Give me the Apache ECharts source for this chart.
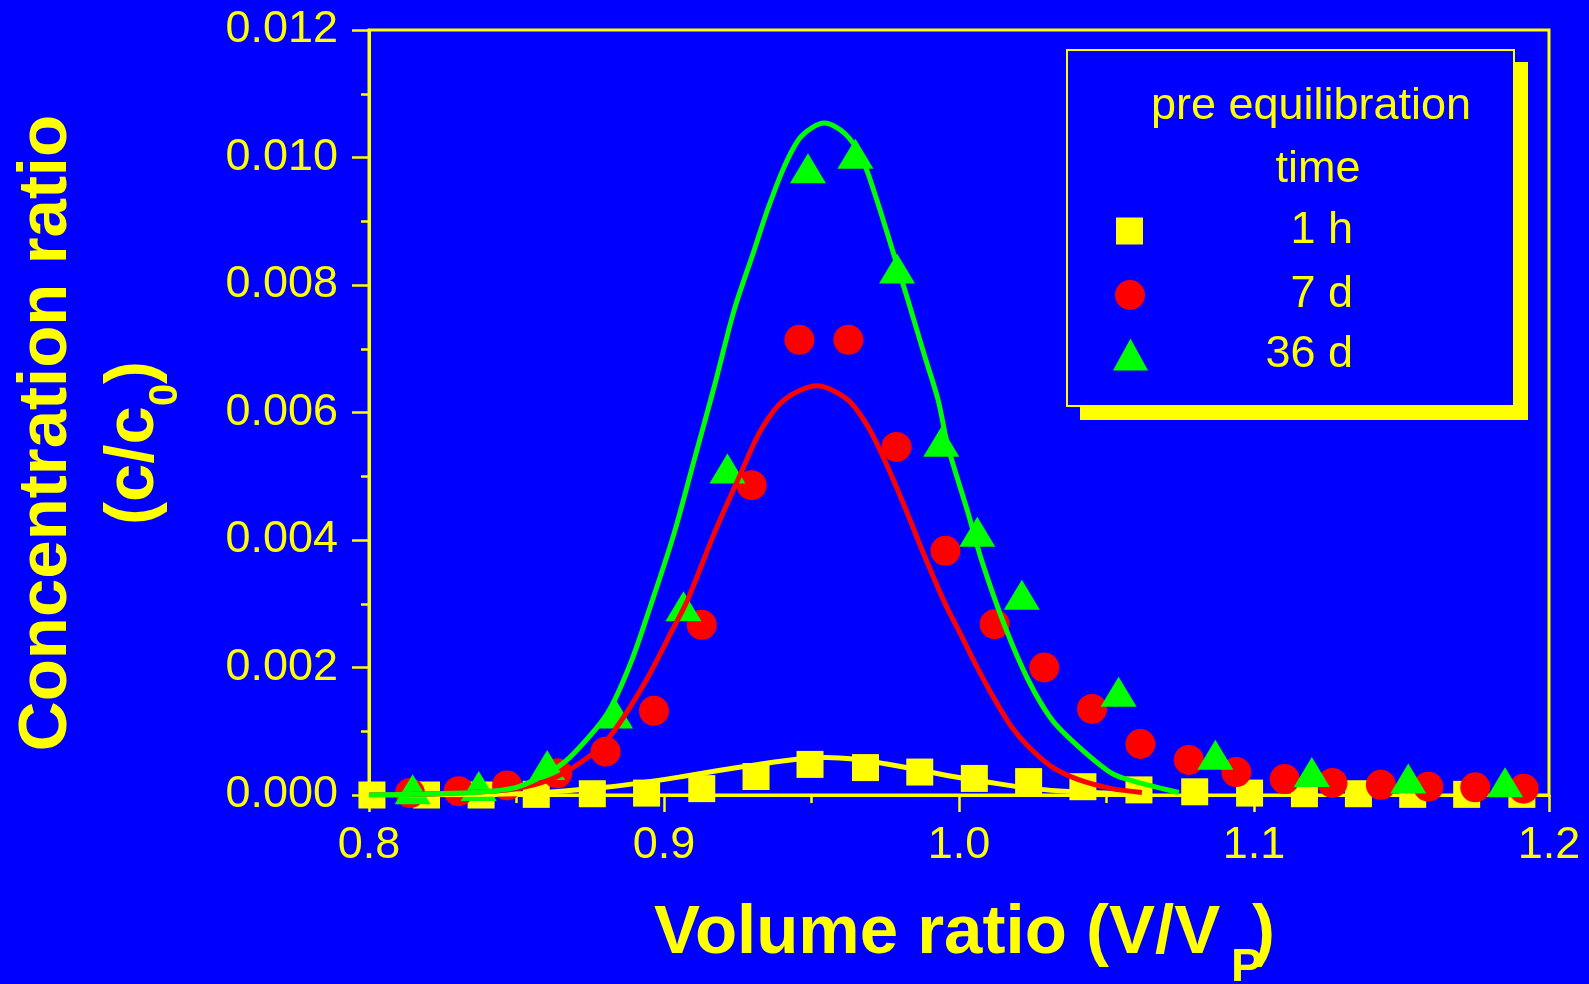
<!DOCTYPE html>
<html>
<head>
<meta charset="utf-8">
<script src="https://cdn.jsdelivr.net/npm/echarts@6/dist/echarts.min.js"></script>
<style>
html,body{margin:0;padding:0;background:#0000ff;}
#chart{width:1589px;height:984px;}
</style>
</head>
<body>
<div id="chart"></div>
<script>
// ---- data ----
const seriesNames = ['1 h', '7 d', '36 d'];

const h1X = [0.801, 0.8195, 0.838, 0.8567, 0.8757, 0.8941, 0.9128, 0.9312, 0.9495, 0.9683, 0.9867,
             1.0052, 1.0236, 1.0420, 1.0610, 1.0799, 1.0985, 1.1171, 1.1354, 1.1538, 1.1721, 1.1908];
const h1Y = [0, 0, 0, 0.00001, 0.00002, 0.00003, 0.00010, 0.00029, 0.00048, 0.00043, 0.00036,
             0.00026, 0.00021, 0.00013, 0.00008, 0.00005, 0.00003, 0.00002, 0.00002, 0.00001, 0.00001, 0.00001];

const d7X = [0.8139, 0.8304, 0.8468, 0.8638, 0.8802, 0.8966, 0.9128, 0.9297, 0.9459, 0.9625, 0.9788, 0.9954,
             1.0121, 1.0289, 1.0451, 1.0615, 1.0779, 1.0940, 1.1104, 1.1266, 1.1430, 1.1591, 1.1750, 1.1914];
const d7Y = [0.00003, 0.00006, 0.00015, 0.00034, 0.00068, 0.00132, 0.00267, 0.00486, 0.00714, 0.00714, 0.00546, 0.00383,
             0.00268, 0.00200, 0.00135, 0.00080, 0.00055, 0.00036, 0.00025, 0.00019, 0.00016, 0.00013, 0.00012, 0.00010];

const d36X = [0.8148, 0.8372, 0.8604, 0.8834, 0.9066, 0.9215, 0.9488, 0.9649, 0.9790, 0.9940, 1.0062, 1.0213,
              1.0541, 1.0869, 1.1196, 1.1523, 1.1851];
const d36Y = [0.00009, 0.00014, 0.00047, 0.00128, 0.00296, 0.00512, 0.00983, 0.01006, 0.00826, 0.00554, 0.00413, 0.00314,
              0.00162, 0.00063, 0.00036, 0.00026, 0.00020];

// fitted curves
const fit1hX = [0.80, 0.85, 0.865, 0.88, 0.892, 0.905, 0.918, 0.932, 0.945, 0.955, 0.965, 0.975, 0.987, 0.998, 1.010, 1.025, 1.040, 1.058];
const fit1hY = [0, 0.00002, 0.00006, 0.00012, 0.00019, 0.00028, 0.00038, 0.00048, 0.00056, 0.00059, 0.00056, 0.00049, 0.00039, 0.00029, 0.00020, 0.00010, 0.00005, 0.00002];

const fit7dX = [0.80, 0.8468, 0.8638, 0.8796, 0.8921, 0.9034, 0.9080, 0.9170, 0.9255, 0.9329, 0.9408, 0.9519, 0.9623, 0.9691,
                0.9748, 0.9816, 0.9884, 0.9952, 1.0008, 1.0054, 1.0122, 1.0178, 1.0235, 1.0315, 1.0405, 1.0518, 1.0620];
const fit7dY = [0, 0.00008, 0.00029, 0.00081, 0.00165, 0.00264, 0.00306, 0.00410, 0.00499, 0.00573, 0.00620, 0.00642, 0.00620, 0.00578,
                0.00525, 0.00452, 0.00374, 0.00301, 0.00250, 0.00207, 0.00149, 0.00107, 0.00076, 0.00044, 0.00024, 0.00010, 0.00004];

const fit36dX = [0.80, 0.835, 0.85, 0.8627, 0.8694, 0.8808, 0.8887, 0.8961, 0.9034, 0.9102, 0.9170, 0.9238, 0.9306, 0.9351, 0.9408,
                 0.9465, 0.9544, 0.9612, 0.9669, 0.9714, 0.9771, 0.9827, 0.9884, 0.9929, 0.9963, 1.0031, 1.0076, 1.0156,
                 1.0235, 1.0315, 1.0405, 1.0518, 1.0597, 1.0745];
const fit36dY = [0, 0.00004, 0.00012, 0.00040, 0.00065, 0.00128, 0.00207, 0.00306, 0.00410, 0.00525, 0.00640, 0.00761, 0.00855, 0.00918, 0.00986,
                 0.01033, 0.01054, 0.01038, 0.01001, 0.00944, 0.00860, 0.00776, 0.00688, 0.00620, 0.00546, 0.00442, 0.00369, 0.00264,
                 0.00180, 0.00118, 0.00076, 0.00034, 0.00021, 0.00004];

const xMin = 0.8, xMax = 1.2, xStep = 0.1;
const yMin = 0, yMax = 0.012, yStep = 0.002;

// ---- styling ----
const BG = '#0000ff', YEL = '#ffff00', RED = '#ff0000', GRN = '#00ff00';
const FONT = '"Liberation Sans", Arial, Helvetica, sans-serif';
const zip = (a, b) => a.map((v, i) => [v, b[i]]);

const chart = echarts.init(document.getElementById('chart'), null, {renderer: 'canvas'});

function legendItem(name, left, top, w, h, textW) {
  return {
    data: [name], orient: 'vertical', left: left, top: top, padding: 0,
    itemWidth: w, itemHeight: h, selectedMode: false,
    formatter: '{r|{name}}',
    textStyle: {
      color: YEL, fontFamily: FONT, fontSize: 45, lineHeight: 45,
      rich: { r: { width: textW, align: 'right', color: YEL, fontFamily: FONT, fontSize: 45, lineHeight: 45 } }
    }
  };
}

const axisCommon = {
  axisLine: { show: true, onZero: false, lineStyle: { color: YEL, width: 3 } },
  axisTick: { show: true, inside: false, length: 17, lineStyle: { color: YEL, width: 2.5 } },
  minorTick: { show: true, splitNumber: 2, length: 8, lineStyle: { color: YEL, width: 2.5 } },
  splitLine: { show: false }
};

const option = {
  backgroundColor: BG,
  animation: false,
  grid: { left: 369, right: 40, top: 30, bottom: 189, show: true, borderColor: YEL, borderWidth: 3, backgroundColor: 'transparent' },
  xAxis: Object.assign({
    type: 'value', min: xMin, max: xMax, interval: xStep,
    axisLabel: { color: YEL, fontSize: 45, fontFamily: FONT, margin: 28, formatter: v => v.toFixed(1) }
  }, axisCommon),
  yAxis: Object.assign({
    type: 'value', min: yMin, max: yMax, interval: yStep,
    axisLabel: { color: YEL, fontSize: 45, fontFamily: FONT, margin: 31, formatter: v => v.toFixed(3) }
  }, axisCommon),
  legend: [
    legendItem(seriesNames[0], 1116, 208.5, 27, 27, 205),
    legendItem(seriesNames[1], 1115, 272.5, 30, 30, 203),
    legendItem(seriesNames[2], 1113, 332, 35, 32, 200)
  ],
  graphic: [
    { type: 'rect', z: 0, shape: { x: 1080, y: 62, width: 448, height: 358 }, style: { fill: YEL } },
    { type: 'rect', z: 1, shape: { x: 1067, y: 50, width: 447, height: 356 }, style: { fill: BG, stroke: YEL, lineWidth: 2 } },
    { type: 'text', z: 2, x: 1311, y: 107, style: { text: 'pre equilibration', fill: YEL, font: '45px ' + FONT, align: 'center', verticalAlign: 'middle' } },
    { type: 'text', z: 2, x: 1318, y: 169.5, style: { text: 'time', fill: YEL, font: '45px ' + FONT, align: 'center', verticalAlign: 'middle' } },
    // x axis title
    { type: 'group', x: 654, y: 934, children: [
      { type: 'text', x: 0, y: 0, style: { text: 'Volume ratio (V/V', fill: YEL, font: 'bold 69px ' + FONT, align: 'left', verticalAlign: 'middle' } },
      { type: 'text', x: 577, y: 34, style: { text: 'P', fill: YEL, font: 'bold 47px ' + FONT, align: 'left', verticalAlign: 'middle' } },
      { type: 'text', x: 598, y: 0, style: { text: ')', fill: YEL, font: 'bold 69px ' + FONT, align: 'left', verticalAlign: 'middle' } }
    ]},
    // y axis title line 1
    { type: 'group', x: 47, y: 433, rotation: Math.PI / 2, children: [
      { type: 'text', x: 0, y: 0, style: { text: 'Concentration ratio', fill: YEL, font: 'bold 69px ' + FONT, align: 'center', verticalAlign: 'middle' } }
    ]},
    // y axis title line 2
    { type: 'group', x: 133.6, y: 525, rotation: Math.PI / 2, children: [
      { type: 'text', x: 0, y: 0, style: { text: '(c/c', fill: YEL, font: 'bold 69px ' + FONT, align: 'left', verticalAlign: 'middle' } },
      { type: 'text', x: 119, y: 32, style: { text: '0', fill: YEL, font: 'bold 40px ' + FONT, align: 'left', verticalAlign: 'middle' } },
      { type: 'text', x: 141, y: 0, style: { text: ')', fill: YEL, font: 'bold 69px ' + FONT, align: 'left', verticalAlign: 'middle' } }
    ]}
  ],
  series: [
    { name: seriesNames[0], type: 'scatter', symbol: 'rect', symbolSize: 27, z: 2, silent: true,
      itemStyle: { color: YEL, opacity: 1 }, data: zip(h1X, h1Y) },
    { name: seriesNames[1], type: 'scatter', symbol: 'circle', symbolSize: 30, z: 3, silent: true,
      itemStyle: { color: RED, opacity: 1 }, data: zip(d7X, d7Y) },
    { name: seriesNames[2], type: 'scatter', symbol: 'triangle', symbolSize: [36, 30], z: 4, silent: true,
      itemStyle: { color: GRN, opacity: 1 }, data: zip(d36X, d36Y) },
    { name: 'fit 1 h', type: 'line', showSymbol: false, smooth: 0.3, z: 5, silent: true,
      lineStyle: { color: YEL, width: 5 }, itemStyle: { color: YEL }, data: zip(fit1hX, fit1hY) },
    { name: 'fit 7 d', type: 'line', showSymbol: false, smooth: 0.3, z: 6, silent: true,
      lineStyle: { color: RED, width: 5 }, itemStyle: { color: RED }, data: zip(fit7dX, fit7dY) },
    { name: 'fit 36 d', type: 'line', showSymbol: false, smooth: 0.3, z: 7, silent: true,
      lineStyle: { color: GRN, width: 5 }, itemStyle: { color: GRN }, data: zip(fit36dX, fit36dY) }
  ]
};
chart.setOption(option);
</script>
</body>
</html>
